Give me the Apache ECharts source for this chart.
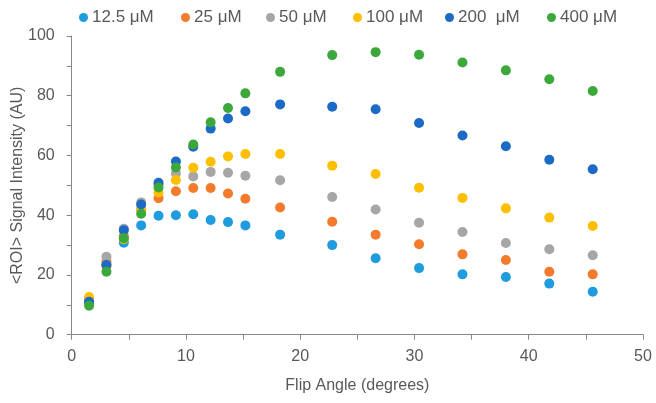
<!DOCTYPE html>
<html><head><meta charset="utf-8">
<script src="https://cdn.jsdelivr.net/npm/echarts@6/dist/echarts.min.js"></script>
<style>html,body{margin:0;padding:0;background:#fff}#c{width:656px;height:403px}</style>
</head><body><div id="c"></div>
<script>
const flipAngles = [1.52,3.04,4.56,6.08,7.6,9.12,10.64,12.16,13.68,15.2,18.24,22.8,26.6,30.4,34.2,38,41.8,45.6];
const seriesNames = ['12.5 μM','25 μM','50 μM','100 μM','200  μM','400 μM'];
const s12_5 = [11.0,23.5,30.8,36.6,39.8,40.0,40.3,38.4,37.7,36.6,33.5,30.0,25.6,22.3,20.2,19.3,17.1,14.4];
const s25   = [12.0,24.5,33.0,42.0,45.7,48.0,49.1,49.1,47.3,45.5,42.6,37.8,33.5,30.3,26.9,25.0,21.1,20.2];
const s50   = [11.5,26.1,35.5,44.3,50.3,54.0,53.0,54.5,54.2,53.2,51.7,46.1,41.9,37.5,34.4,30.7,28.6,26.6];
const s100  = [12.6,23.0,32.0,42.0,47.6,51.8,55.9,57.9,59.7,60.5,60.5,56.6,53.8,49.2,45.8,42.3,39.2,36.4];
const s200  = [11.0,23.3,35.0,43.6,50.9,58.0,62.9,69.0,72.4,74.8,77.1,76.3,75.5,70.9,66.7,63.1,58.6,55.4];
const s400  = [9.7,21.1,32.3,40.5,49.3,56.0,63.7,71.1,75.9,80.8,88.0,93.6,94.6,93.7,91.1,88.5,85.5,81.6];
const allValues = [s12_5,s25,s50,s100,s200,s400];
const colors = ['#1E9CDE','#F37B2B','#A6A6A6','#FDBF00','#1B6AC6','#3CA83B'];
const legendLefts = [74,176,261,348,440,542];

const font = 'Liberation Sans, Arial, sans-serif';
const chart = echarts.init(document.getElementById('c'));
chart.setOption({
  backgroundColor:'#fff',
  animation:false,
  color:colors,
  legend: seriesNames.map((n,i)=>({
    data:[n], left:legendLefts[i], top:4, icon:'circle', itemWidth:9, itemHeight:9, itemGap:0,
    textStyle:{fontFamily:font,fontSize:17,color:'#595959',padding:[0,0,0,-1]}
  })),
  grid:{left:71.7,right:13,top:36,bottom:68.3,containLabel:false,outerBoundsMode:'none'},
  xAxis:{type:'value',min:0,max:50,interval:10,
    name:'Flip Angle (degrees)',nameLocation:'middle',nameGap:43,nameMoveOverlap:false,
    nameTextStyle:{fontFamily:font,fontSize:16,color:'#595959'},
    axisLine:{lineStyle:{color:'#868686'}},
    axisTick:{show:true,length:5,lineStyle:{color:'#868686'}},
    minorTick:{show:true,splitNumber:2,length:5,lineStyle:{color:'#868686'}},
    splitLine:{show:false},
    axisLabel:{fontFamily:font,fontSize:16,color:'#595959',margin:14}},
  yAxis:{type:'value',min:0,max:100,interval:20,
    name:'<ROI> Signal Intensity (AU)',nameLocation:'middle',nameGap:46,nameMoveOverlap:false,
    nameTextStyle:{fontFamily:font,fontSize:16,color:'#595959'},
    axisLine:{show:true,lineStyle:{color:'#868686'}},
    axisTick:{show:true,length:5,lineStyle:{color:'#868686'}},
    minorTick:{show:true,splitNumber:2,length:5,lineStyle:{color:'#868686'}},
    splitLine:{show:false},
    axisLabel:{fontFamily:font,fontSize:16,color:'#595959',margin:17}},
  series: seriesNames.map((n,i)=>({
    name:n,type:'scatter',symbol:'circle',symbolSize:10,
    itemStyle:{color:colors[i],opacity:1},
    data: flipAngles.map((x,j)=>[x,allValues[i][j]])
  }))
});
</script></body></html>
